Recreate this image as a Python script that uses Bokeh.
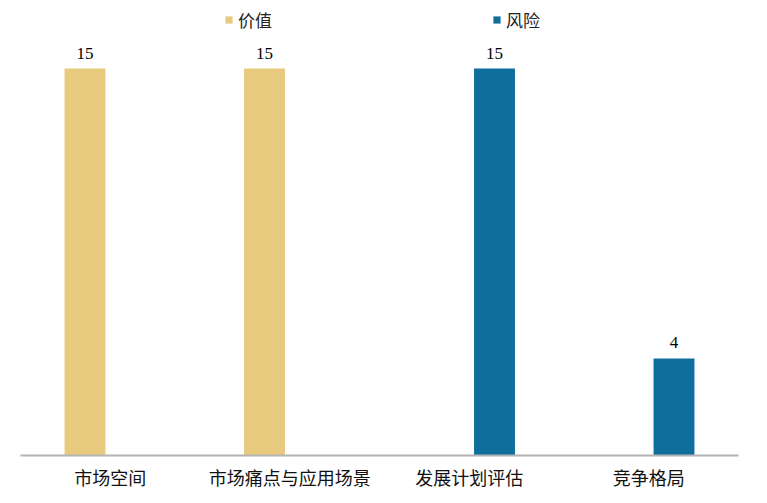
from bokeh.plotting import figure
from bokeh.models import ColumnDataSource, FactorRange, Range1d, Legend, LegendItem, LabelSet
from bokeh.transform import dodge
from bokeh.embed import file_html
from bokeh.resources import INLINE

categories = ["市场空间", "市场痛点与应用场景", "发展计划评估", "竞争格局"]
series_names = ["价值", "风险"]
value_vals = [15, 15, 0, 0]
risk_vals = [0, 0, 15, 3.76]
colors = ["#E8CA7E", "#0F6E9C"]

W, H = 759, 495
p = figure(x_range=FactorRange(factors=categories, range_padding=0),
           y_range=Range1d(0, 455 / 25.8),
           width=W, height=H, output_backend="svg", toolbar_location=None,
           min_border_left=20, min_border_right=21, min_border_top=0, min_border_bottom=40)

src = ColumnDataSource(dict(cat=categories, v=value_vals, r=risk_vals))
r1 = p.vbar(x=dodge("cat", -0.1407, range=p.x_range), top="v", width=0.228, source=src,
            fill_color=colors[0], line_color=None)
r2 = p.vbar(x=dodge("cat", 0.1407, range=p.x_range), top="r", width=0.228, source=src,
            fill_color=colors[1], line_color=None)

# value labels (non-zero only)
for vals, off in ((value_vals, -0.1407), (risk_vals, 0.1407)):
    cs = [c for c, v in zip(categories, vals) if v > 0]
    vs = [v for v in vals if v > 0]
    ls = ColumnDataSource(dict(cat=cs, v=vs, t=["%.0f" % v for v in vs]))
    p.add_layout(LabelSet(x=dodge("cat", off, range=p.x_range), y="v", text="t", source=ls,
                          y_offset=10, text_align="center", text_baseline="bottom",
                          text_font="Liberation Serif", text_font_size="17px",
                          text_color="#000000"))

legend = Legend(items=[LegendItem(label=series_names[0], renderers=[r1]),
                       LegendItem(label=series_names[1], renderers=[r2])],
                orientation="horizontal", location=(204, 423),
                spacing=220, padding=0, margin=0, glyph_width=9, glyph_height=9,
                label_standoff=5, label_text_font="Noto Sans CJK SC",
                label_text_font_size="17px", label_text_color="#222222",
                border_line_color=None, background_fill_alpha=0)
p.add_layout(legend, "center")

p.yaxis.visible = False
p.xgrid.grid_line_color = None
p.ygrid.grid_line_color = None
p.outline_line_color = None
p.xaxis.axis_line_color = "#B4B4B4"
p.xaxis.axis_line_width = 2
p.xaxis.major_tick_line_color = None
p.xaxis.minor_tick_line_color = None
p.xaxis.major_tick_out = 0
p.xaxis.major_tick_in = 0
p.xaxis.major_label_standoff = 8
p.xaxis.major_label_text_font = "Noto Sans CJK SC"
p.xaxis.major_label_text_font_size = "18px"
p.xaxis.major_label_text_color = "#111111"

open("out.html", "w").write(file_html(p, INLINE))
